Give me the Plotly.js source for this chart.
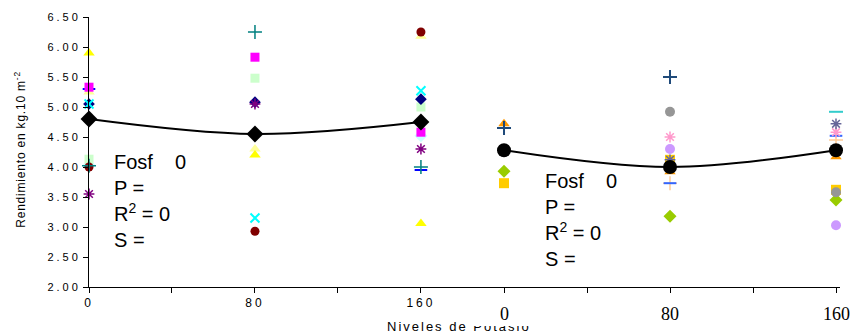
<!DOCTYPE html>
<html>
<head>
<meta charset="utf-8">
<script src="https://cdn.plot.ly/plotly-3.0.1.min.js"></script>
<style>
  html, body { margin: 0; padding: 0; background: #fff; }
  #chart { width: 859px; height: 336px; }
  .xtick text { letter-spacing: 3px; }
  .ytick text { letter-spacing: 3px; }
  .annotation[data-index="0"] text { letter-spacing: 2px; }
  .annotation[data-index="5"] text { letter-spacing: 0.8px; }
</style>
</head>
<body>
<div id="chart"></div>
<script>
// ---------- DATA ----------
const niveles = [0, 80, 160];
const tickVals = [0, 40, 80, 120, 160];
const leftTickText = ['0', '', '80', '', '160'];
const rightTickVals = [0, 80, 160];
const rightTickText = ['0', '80', '160'];
const yTickVals = [2.0, 2.5, 3.0, 3.5, 4.0, 4.5, 5.0, 5.5, 6.0, 6.5];

// left panel series
const navyDiamond   = [5.05, 5.08, 5.13];
const magentaSquare = [5.33, 5.83, 4.58];
const yellowTri     = [5.90, 4.20, 3.06];
const cyanX         = [5.05, 3.15, 5.27];
const purpleAst     = [3.55, 5.05, 4.30];
const darkRedCircle = [4.00, 2.93, 6.25];
const tealPlus      = [4.02, 6.25, 4.00];
const blueDash      = [5.30, 4.56, 3.95];
const ltCyanDiamond = [4.03, null, 4.52];
const ltGreenSquare = [4.13, 5.48, 5.00];
const ltYellowTri   = [5.25, 4.30, 6.18];
const leftMean      = [4.80, 4.55, 4.75];

// right panel series
const orangeTri     = [4.72, 3.92, 4.17];
const navyPlus      = [4.65, 5.50, null];
const lavCircle     = [4.25, 4.30, 3.03];
const greenDiamond  = [3.93, 3.18, 3.45];
const goldSquare    = [3.73, 4.12, 3.62];
const grayCircle    = [null, 4.92, 3.58];
const pinkAst       = [null, 4.50, 4.58];
const slateAst      = [null, 4.12, 4.72];
const tealDash      = [null, null, 4.92];
const ltOrangePlus  = [null, 3.73, 4.45];
const blueDash2     = [null, 3.73, 4.52];
const rightMean     = [4.28, 4.00, 4.28];

// ---------- TRACES ----------
function pts(y, xa, color, symbol, size, open) {
  const m = { color: color, symbol: symbol, size: size };
  if (open) m.line = { color: color, width: open };
  else m.line = { width: 0 };
  return { x: niveles, y: y, xaxis: xa, yaxis: 'y', type: 'scatter', mode: 'markers',
           marker: m, showlegend: false, hoverinfo: 'skip', cliponaxis: false };
}
const traces = [
  pts(blueDash, 'x', '#0000FF', 'line-ew-open', 9, 2),
  pts(ltCyanDiamond, 'x', '#CCFFFF', 'diamond', 10),
  pts(ltGreenSquare, 'x', '#CCFFCC', 'square', 9),
  pts(ltYellowTri, 'x', '#FFFF99', 'triangle-up', 10),
  pts(darkRedCircle, 'x', '#800000', 'circle', 9),
  pts(tealPlus, 'x', '#008080', 'cross-thin-open', 10, 1.5),
  pts(yellowTri, 'x', '#FFFF00', 'triangle-up', 10),
  pts(magentaSquare, 'x', '#FF00FF', 'square', 9),
  pts(navyDiamond, 'x', '#000080', 'diamond', 9),
  pts(purpleAst, 'x', '#800080', 'asterisk-open', 9, 1.5),
  pts(cyanX, 'x', '#00FFFF', 'x-thin-open', 9, 2),
  { x: niveles, y: leftMean, xaxis: 'x', yaxis: 'y', type: 'scatter', mode: 'lines+markers',
    line: { color: '#000', width: 2, shape: 'spline' }, cliponaxis: false,
    marker: { color: '#000', symbol: 'diamond', size: 13 }, showlegend: false, hoverinfo: 'skip' },

  pts(tealDash, 'x2', '#33CCCC', 'line-ew-open', 10, 2),
  pts(ltOrangePlus, 'x2', '#FFCC99', 'cross-thin-open', 10, 1.5),
  pts(blueDash2, 'x2', '#3366FF', 'line-ew-open', 9, 2),
  pts(orangeTri, 'x2', '#FF9900', 'triangle-up', 10),
  pts(navyPlus, 'x2', '#1F4A7A', 'cross-thin-open', 10, 2),
  pts(lavCircle, 'x2', '#CC99FF', 'circle', 10),
  pts(greenDiamond, 'x2', '#99CC00', 'diamond', 10),
  pts(goldSquare, 'x2', '#FFCC00', 'square', 10),
  pts(grayCircle, 'x2', '#969696', 'circle', 10),
  pts(pinkAst, 'x2', '#FF99CC', 'asterisk-open', 9, 1.5),
  pts(slateAst, 'x2', '#666699', 'asterisk-open', 9, 1.5),
  { x: niveles, y: rightMean, xaxis: 'x2', yaxis: 'y', type: 'scatter', mode: 'lines+markers',
    line: { color: '#000', width: 2, shape: 'spline' }, cliponaxis: false,
    marker: { color: '#000', symbol: 'circle', size: 14 }, showlegend: false, hoverinfo: 'skip' }
];

const sans = 'Arial, "Liberation Sans", sans-serif';
const serif = '"Times New Roman", "Liberation Serif", serif';

const annotations = [
  { text: 'Niveles de Potasio', xref: 'paper', yref: 'paper', x: 0.493, y: -0.145,
    xanchor: 'center', yanchor: 'middle', showarrow: false, font: { family: sans, size: 13, color: '#000' } },
  { text: ' ', xref: 'paper', yref: 'paper', x: 0.5035, y: -0.124, xanchor: 'left', yanchor: 'middle',
    width: 110, height: 12, bgcolor: '#ffffff', borderpad: 0, borderwidth: 0, showarrow: false,
    font: { size: 8 } }
];
rightTickVals.forEach((v, i) => annotations.push({
  text: rightTickText[i], xref: 'x2', yref: 'paper', x: v, y: -0.1, xanchor: 'center', yanchor: 'middle',
  showarrow: false, font: { family: serif, size: 18, color: '#000' }
}));
annotations.push(
  { text: 'Rendimiento en kg.10 m<sup>-2</sup>', xref: 'paper', yref: 'paper', x: -0.092, y: 0.51,
    xanchor: 'center', yanchor: 'middle', textangle: -90, showarrow: false,
    font: { family: sans, size: 12, color: '#000' } },
  { text: 'Fosf\u00a0\u00a0\u00a0\u00a00<br>P =<br>R<sup>2</sup> = 0<br>S =', xref: 'paper', yref: 'paper',
    x: 0.03, y: 0.318, xanchor: 'left', yanchor: 'middle', align: 'left', showarrow: false,
    font: { family: sans, size: 20, color: '#000' } },
  { text: 'Fosf\u00a0\u00a0\u00a0\u00a00<br>P =<br>R<sup>2</sup> = 0<br>S =', xref: 'paper', yref: 'paper',
    x: 0.604, y: 0.248, xanchor: 'left', yanchor: 'middle', align: 'left', showarrow: false,
    font: { family: sans, size: 20, color: '#000' } }
);

const layout = {
  width: 859, height: 336,
  margin: { l: 89, r: 19, t: 17, b: 49, pad: 0 },
  paper_bgcolor: '#fff', plot_bgcolor: '#fff',
  showlegend: false,
  xaxis: { domain: [0, 0.5], range: [0, 181], tickvals: tickVals, ticktext: leftTickText,
    showline: true, linecolor: '#000', linewidth: 1, ticks: 'outside', ticklen: 5, tickcolor: '#000',
    showgrid: false, zeroline: false, anchor: 'y', fixedrange: true,
    tickfont: { family: sans, size: 12, color: '#000' } },
  xaxis2: { domain: [0.5, 1], range: [-19.04, 161.93], tickvals: tickVals, showticklabels: false,
    showline: true, linecolor: '#000', linewidth: 1, ticks: 'outside', ticklen: 5, tickcolor: '#000',
    showgrid: false, zeroline: false, anchor: 'y', fixedrange: true },
  yaxis: { range: [2, 6.5], tickvals: yTickVals, tickformat: '.2f',
    showline: true, linecolor: '#000', linewidth: 1, ticks: 'outside', ticklen: 5, tickcolor: '#000',
    showgrid: false, zeroline: false, fixedrange: true,
    tickfont: { family: sans, size: 11, color: '#000' } },
  annotations: annotations
};

Plotly.newPlot('chart', traces, layout, { displayModeBar: false, staticPlot: true });
</script>
</body>
</html>
